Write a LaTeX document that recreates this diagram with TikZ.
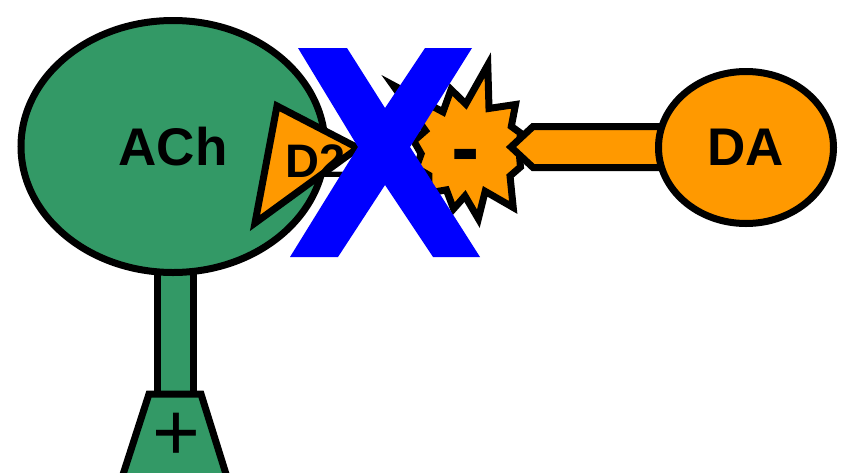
\documentclass[tikz,border=0pt]{standalone}
\usepackage{fontspec}
\setmainfont{Liberation Sans}
\usetikzlibrary{shapes.geometric}
\definecolor{achgreen}{RGB}{51,153,102}
\definecolor{daorange}{RGB}{255,153,0}
\definecolor{xblue}{RGB}{0,0,255}
\tikzset{
  outl/.style={draw=black, line width=7pt, line join=miter},
  greenpart/.style={outl, fill=achgreen},
  orangepart/.style={outl, fill=daorange},
  bigtext/.style={font=\fontsize{53}{60}\selectfont\bfseries, text=black, inner sep=0pt},
}
\begin{document}
\begin{tikzpicture}[x=1pt,y=-1pt]
\useasboundingbox (0,0) rectangle (841,472);
\clip (0,0) rectangle (841,472);
% stem and receptor base of ACh
\coordinate (stemtop) at (175,250);
\coordinate (stembot) at (175,394);
\draw[greenpart] (157,250) -- (157,394) -- (193,394) -- (193,250);
\fill[achgreen] (160.5,245) rectangle (189.5,390);
\draw[greenpart] (149,394) -- (201,394) -- (231,490) -- (118,490) -- cycle;
\node[font=\fontsize{82}{90}\selectfont, inner sep=0pt, anchor=base] (plus) at (176,460) {+};
% ACh ellipse
\node[ellipse, greenpart, minimum width=304pt, minimum height=252pt, bigtext] (ach) at (173,146.5) {ACh};
% D2 triangle
\draw[orangepart] (277,106) -- (358,148) -- (255,223) -- cycle;
\node[bigtext, font=\fontsize{47}{50}\selectfont\bfseries] (d2) at (316,161) {D2};
% starburst
\draw[orangepart, shift={(465,150)}]
  (-138:97) -- (-120:44) -- (-103:62) -- (-89:46) -- (-75:88) -- (-60:48)
  -- (-42:68) -- (-27:52) -- (-17:58) -- (0:54) -- (17:58) -- (30:52)
  -- (50:75) -- (64:46) -- (79:70) -- (90:46) -- (101:60) -- (115:44)
  -- (130:56) -- (145:44) -- (160:52) -- (175:44) -- (190:52) -- (206:44) -- cycle;
\node[font=\fontsize{85}{90}\selectfont\bfseries, inner sep=0pt, anchor=base] (minus) at (466,176) {-};
% bar from DA
\coordinate (bartip) at (511,147);
\draw[orangepart] (680,126.5) -- (533,126.5) -- (bartip) -- (533,167.5) -- (680,167.5);
% DA ellipse
\node[ellipse, orangepart, minimum width=175pt, minimum height=152pt, bigtext] (da) at (746,147.5) {DA};
% blue X
\fill[xblue] (298,48) -- (347,48) -- (385,108) -- (425,48) -- (472,48) -- (410,147)
  -- (480,257) -- (433,257) -- (385,185) -- (338,257) -- (290,257) -- (358,147) -- cycle;
\end{tikzpicture}
\end{document}
